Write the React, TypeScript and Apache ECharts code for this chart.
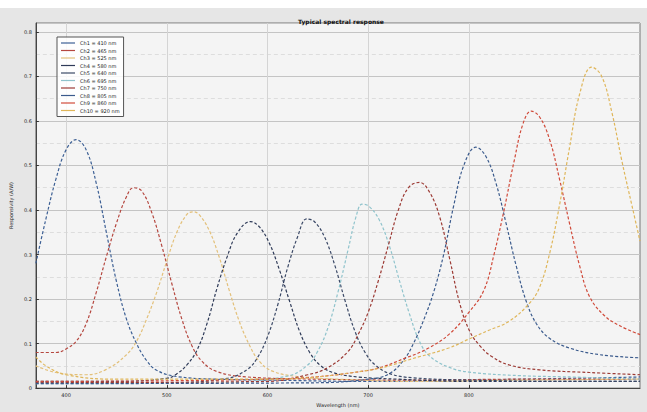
import React, { useEffect, useRef } from "react";
import * as echarts from "echarts";

const TITLE = "Typical spectral response";
const X_NAME = "Wavelength (nm)";
const Y_NAME = "Responsivity (A/W)";
const X_TICKS = [400, 500, 600, 700, 800];

const SERIES_NAMES = [
  "Ch1 = 410 nm",
  "Ch2 = 465 nm",
  "Ch3 = 525 nm",
  "Ch4 = 580 nm",
  "Ch5 = 640 nm",
  "Ch6 = 695 nm",
  "Ch7 = 750 nm",
  "Ch8 = 805 nm",
  "Ch9 = 860 nm",
  "Ch10 = 920 nm",
];

const COLORS = [
  "#3c5f94",
  "#b5473f",
  "#e3c07a",
  "#2e3a58",
  "#3a4866",
  "#8fc3cc",
  "#9c3a34",
  "#3a5a8c",
  "#d04a3a",
  "#dfb65a",
];

const CH1: [number, number][] = [
  [370, 0.28], [380, 0.38], [390, 0.47], [400, 0.535], [410, 0.558], [420, 0.535],
  [430, 0.46], [440, 0.35], [450, 0.24], [460, 0.155], [470, 0.1], [480, 0.062],
  [490, 0.04], [510, 0.026], [550, 0.02], [600, 0.018], [700, 0.015], [800, 0.018],
  [900, 0.022], [970, 0.025],
];
const CH2: [number, number][] = [
  [370, 0.08], [390, 0.08], [400, 0.088], [410, 0.105], [420, 0.145], [430, 0.215],
  [440, 0.295], [450, 0.37], [460, 0.43], [467, 0.45], [475, 0.443], [485, 0.395],
  [495, 0.32], [505, 0.235], [515, 0.155], [525, 0.095], [535, 0.06], [550, 0.037],
  [580, 0.025], [650, 0.02], [750, 0.018], [850, 0.02], [970, 0.02],
];
const CH3: [number, number][] = [
  [370, 0.05], [390, 0.035], [420, 0.03], [440, 0.042], [460, 0.075], [470, 0.105],
  [480, 0.155], [490, 0.215], [500, 0.285], [510, 0.35], [520, 0.39], [526, 0.396],
  [532, 0.39], [542, 0.355], [552, 0.295], [562, 0.22], [572, 0.15], [582, 0.097],
  [592, 0.06], [605, 0.038], [630, 0.026], [670, 0.02], [750, 0.015], [850, 0.018],
  [970, 0.02],
];
const CH4: [number, number][] = [
  [370, 0.015], [450, 0.015], [500, 0.022], [510, 0.032], [520, 0.052], [530, 0.085],
  [540, 0.145], [550, 0.225], [560, 0.295], [570, 0.348], [583, 0.374], [592, 0.362],
  [602, 0.325], [612, 0.265], [622, 0.195], [632, 0.127], [642, 0.08], [652, 0.052],
  [665, 0.035], [690, 0.025], [730, 0.02], [800, 0.015], [900, 0.015], [970, 0.015],
];
const CH5: [number, number][] = [
  [370, 0.012], [500, 0.012], [560, 0.022], [580, 0.042], [590, 0.068], [600, 0.115],
  [610, 0.185], [620, 0.27], [630, 0.34], [639, 0.38], [647, 0.373], [657, 0.338],
  [667, 0.275], [677, 0.197], [687, 0.127], [697, 0.08], [707, 0.052], [722, 0.032],
  [745, 0.023], [800, 0.018], [900, 0.015], [970, 0.015],
];
const CH6: [number, number][] = [
  [370, 0.01], [550, 0.012], [620, 0.027], [640, 0.052], [650, 0.083], [660, 0.135],
  [670, 0.215], [680, 0.31], [688, 0.385], [694, 0.413], [701, 0.408], [711, 0.378],
  [721, 0.32], [731, 0.242], [741, 0.167], [751, 0.105], [761, 0.072], [780, 0.047],
  [800, 0.036], [850, 0.028], [900, 0.025], [970, 0.02],
];
const CH7: [number, number][] = [
  [370, 0.012], [600, 0.015], [640, 0.03], [660, 0.046], [680, 0.082], [690, 0.12],
  [700, 0.17], [710, 0.24], [720, 0.32], [730, 0.4], [740, 0.45], [751, 0.462],
  [761, 0.44], [771, 0.385], [781, 0.29], [791, 0.19], [801, 0.127], [811, 0.095],
  [822, 0.072], [840, 0.052], [870, 0.041], [920, 0.035], [970, 0.03],
];
const CH8: [number, number][] = [
  [370, 0.01], [650, 0.012], [700, 0.02], [720, 0.031], [735, 0.062], [745, 0.1],
  [755, 0.152], [765, 0.215], [775, 0.3], [785, 0.41], [795, 0.5], [807, 0.541],
  [817, 0.52], [827, 0.46], [837, 0.37], [847, 0.275], [857, 0.195], [867, 0.145],
  [880, 0.112], [900, 0.09], [930, 0.075], [970, 0.068],
];
const CH9: [number, number][] = [
  [370, 0.015], [600, 0.02], [700, 0.04], [740, 0.07], [760, 0.09], [780, 0.12],
  [800, 0.17], [815, 0.22], [825, 0.3], [835, 0.4], [845, 0.51], [854, 0.595],
  [862, 0.622], [870, 0.61], [880, 0.56], [890, 0.47], [900, 0.37], [910, 0.275],
  [920, 0.205], [935, 0.162], [950, 0.14], [970, 0.12],
];
const CH10: [number, number][] = [
  [370, 0.07], [380, 0.05], [400, 0.03], [450, 0.02], [600, 0.02], [700, 0.04],
  [750, 0.07], [780, 0.09], [800, 0.11], [820, 0.13], [840, 0.15], [860, 0.19],
  [870, 0.225], [880, 0.3], [890, 0.41], [900, 0.54], [910, 0.66], [922, 0.721],
  [932, 0.7], [942, 0.62], [952, 0.51], [962, 0.41], [970, 0.33],
];

const CURVES = [CH1, CH2, CH3, CH4, CH5, CH6, CH7, CH8, CH9, CH10];

export default function App() {
  const ref = useRef<HTMLDivElement>(null);
  useEffect(() => {
    document.body.style.margin = "0";
    document.body.style.background = "#ffffff";
    if (!ref.current) return;
    const chart = echarts.init(ref.current, null, { renderer: "svg" });
    chart.setOption({
      animation: false,
      backgroundColor: "#e6e6e6",
      color: COLORS,
      title: {
        text: TITLE,
        left: 336,
        textAlign: "center",
        top: 5,
        textStyle: { fontSize: 6, fontWeight: "bold", color: "#111", fontFamily: "DejaVu Sans" },
      },
      legend: {
        orient: "vertical",
        left: 57,
        top: 29,
        padding: [3, 4, 3, 4],
        icon: "rect",
        itemWidth: 14,
        itemHeight: 1.2,
        itemGap: 1.5,
        selectedMode: false,
        backgroundColor: "rgba(255,255,255,0.85)",
        borderColor: "#555",
        borderWidth: 1,
        textStyle: { fontSize: 5, lineHeight: 6, height: 6, color: "#222", fontFamily: "DejaVu Sans" },
        data: SERIES_NAMES,
      },
      grid: {
        left: 33,
        right: 7,
        top: 15,
        bottom: 16,
        show: true,
        backgroundColor: "#f4f4f4",
        borderColor: "#777",
        borderWidth: 1,
      },
      xAxis: {
        type: "value",
        min: 370,
        max: 970,
        name: X_NAME,
        nameLocation: "middle",
        nameGap: 12,
        nameTextStyle: { fontSize: 5, color: "#222", fontFamily: "DejaVu Sans" },
        axisLine: { onZero: false, lineStyle: { color: "#444" } },
        axisTick: { inside: true, length: 3, customValues: X_TICKS, lineStyle: { color: "#333" } },
        axisLabel: { fontSize: 5, color: "#222", margin: 4, customValues: X_TICKS, fontFamily: "DejaVu Sans" },
        splitLine: { show: true, lineStyle: { color: "#d4d4d4", width: 1 } },
      },
      yAxis: {
        type: "value",
        min: 0,
        max: 0.82,
        interval: 0.1,
        name: Y_NAME,
        nameLocation: "middle",
        nameGap: 17,
        nameTextStyle: { fontSize: 5, color: "#222", fontFamily: "DejaVu Sans" },
        axisLine: { show: true, lineStyle: { color: "#444" } },
        axisTick: { show: true, inside: true, length: 3, lineStyle: { color: "#333" } },
        axisLabel: {
          fontSize: 5,
          color: "#222",
          margin: 4,
          showMaxLabel: false,
          fontFamily: "DejaVu Sans",
          formatter: (v: number) => (v === 0 ? "0" : v.toFixed(1)),
        },
        splitLine: { show: true, lineStyle: { color: "#c4c4c4", width: 1 } },
        minorTick: { show: false, splitNumber: 2 },
        minorSplitLine: { show: true, lineStyle: { color: "#dddddd", type: [4, 3] } },
      },
      series: CURVES.map((d, i) => ({
        name: SERIES_NAMES[i],
        type: "line",
        data: d,
        smooth: 0.4,
        showSymbol: false,
        symbol: "none",
        lineStyle: { color: COLORS[i], width: 1.2, type: [3, 2] },
        itemStyle: { color: COLORS[i] },
      })),
    });
    return () => chart.dispose();
  }, []);
  return (
    <div style={{ width: 647, height: 412, background: "#fff", overflow: "hidden" }}>
      <div ref={ref} style={{ width: 647, height: 404, marginTop: 8 }} />
    </div>
  );
}
